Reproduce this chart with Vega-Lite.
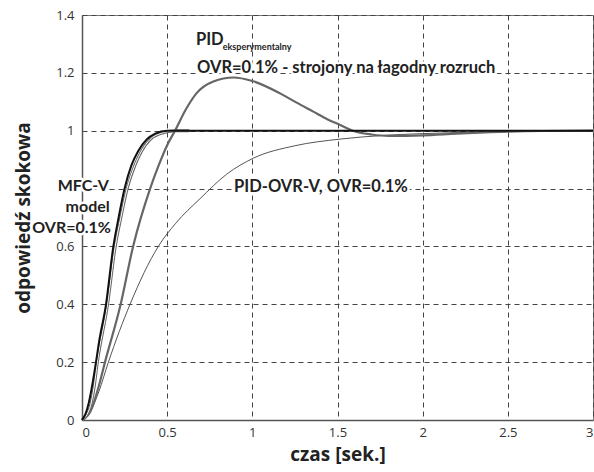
{
  "$schema": "https://vega.github.io/schema/vega-lite/v6.json",
  "width": 511,
  "height": 405,
  "autosize": {"type": "none"},
  "padding": {"left": 82, "top": 15, "right": 1, "bottom": 52},
  "background": "white",
  "config": {
    "view": {"stroke": "#777", "strokeWidth": 1},
    "font": "Lato",
    "axis": {
      "grid": true,
      "gridColor": "#444",
      "gridDash": [5, 4],
      "gridWidth": 1,
      "gridOpacity": 1,
      "ticks": false,
      "domainColor": "#555",
      "domainWidth": 1.5,
      "labelFont": "Open Sans",
      "labelFontSize": 13,
      "labelColor": "#333",
      "titleFont": "Open Sans",
      "titleFontSize": 19,
      "titleFontWeight": "bold",
      "titleColor": "#222"
    }
  },
  "datasets": {
    "curves": [
      {"s": "mfc", "t": 0, "v": 0},
      {"s": "mfc", "t": 0.02, "v": 0.02},
      {"s": "mfc", "t": 0.04, "v": 0.06},
      {"s": "mfc", "t": 0.06, "v": 0.12},
      {"s": "mfc", "t": 0.082, "v": 0.2},
      {"s": "mfc", "t": 0.1, "v": 0.27},
      {"s": "mfc", "t": 0.141, "v": 0.4},
      {"s": "mfc", "t": 0.184, "v": 0.6},
      {"s": "mfc", "t": 0.215, "v": 0.7},
      {"s": "mfc", "t": 0.25, "v": 0.8},
      {"s": "mfc", "t": 0.29, "v": 0.88},
      {"s": "mfc", "t": 0.33, "v": 0.93},
      {"s": "mfc", "t": 0.38, "v": 0.97},
      {"s": "mfc", "t": 0.43, "v": 0.99},
      {"s": "mfc", "t": 0.5, "v": 1.0},
      {"s": "mfc", "t": 1.0, "v": 1.0},
      {"s": "mfc", "t": 2.0, "v": 1.0},
      {"s": "mfc", "t": 3.0, "v": 1.0},
      {"s": "model", "t": 0, "v": 0},
      {"s": "model", "t": 0.03, "v": 0.02},
      {"s": "model", "t": 0.05, "v": 0.05},
      {"s": "model", "t": 0.07, "v": 0.11},
      {"s": "model", "t": 0.09, "v": 0.2},
      {"s": "model", "t": 0.15, "v": 0.4},
      {"s": "model", "t": 0.195, "v": 0.6},
      {"s": "model", "t": 0.228, "v": 0.7},
      {"s": "model", "t": 0.265, "v": 0.8},
      {"s": "model", "t": 0.31, "v": 0.88},
      {"s": "model", "t": 0.35, "v": 0.93},
      {"s": "model", "t": 0.4, "v": 0.97},
      {"s": "model", "t": 0.46, "v": 0.99},
      {"s": "model", "t": 0.55, "v": 1.0},
      {"s": "model", "t": 0.63, "v": 1.0},
      {"s": "pid", "t": 0, "v": 0},
      {"s": "pid", "t": 0.05, "v": 0.03},
      {"s": "pid", "t": 0.1, "v": 0.12},
      {"s": "pid", "t": 0.135, "v": 0.2},
      {"s": "pid", "t": 0.227, "v": 0.4},
      {"s": "pid", "t": 0.3, "v": 0.6},
      {"s": "pid", "t": 0.4, "v": 0.8},
      {"s": "pid", "t": 0.45, "v": 0.88},
      {"s": "pid", "t": 0.5, "v": 0.95},
      {"s": "pid", "t": 0.546, "v": 1.0},
      {"s": "pid", "t": 0.611, "v": 1.075},
      {"s": "pid", "t": 0.673, "v": 1.13},
      {"s": "pid", "t": 0.771, "v": 1.17},
      {"s": "pid", "t": 0.889, "v": 1.184},
      {"s": "pid", "t": 1.0, "v": 1.172},
      {"s": "pid", "t": 1.163, "v": 1.129},
      {"s": "pid", "t": 1.26, "v": 1.097},
      {"s": "pid", "t": 1.358, "v": 1.066},
      {"s": "pid", "t": 1.44, "v": 1.04},
      {"s": "pid", "t": 1.515, "v": 1.02},
      {"s": "pid", "t": 1.59, "v": 1.0},
      {"s": "pid", "t": 1.7, "v": 0.987},
      {"s": "pid", "t": 1.8, "v": 0.982},
      {"s": "pid", "t": 2.0, "v": 0.984},
      {"s": "pid", "t": 2.2, "v": 0.99},
      {"s": "pid", "t": 2.4, "v": 0.995},
      {"s": "pid", "t": 2.7, "v": 0.999},
      {"s": "pid", "t": 3.0, "v": 1.0},
      {"s": "ovr", "t": 0, "v": 0},
      {"s": "ovr", "t": 0.05, "v": 0.03},
      {"s": "ovr", "t": 0.1, "v": 0.1},
      {"s": "ovr", "t": 0.155, "v": 0.2},
      {"s": "ovr", "t": 0.282, "v": 0.4},
      {"s": "ovr", "t": 0.448, "v": 0.6},
      {"s": "ovr", "t": 0.55, "v": 0.68},
      {"s": "ovr", "t": 0.693, "v": 0.765},
      {"s": "ovr", "t": 0.85, "v": 0.85},
      {"s": "ovr", "t": 1.006, "v": 0.905},
      {"s": "ovr", "t": 1.25, "v": 0.948},
      {"s": "ovr", "t": 1.515, "v": 0.971},
      {"s": "ovr", "t": 1.75, "v": 0.983},
      {"s": "ovr", "t": 2.0, "v": 0.99},
      {"s": "ovr", "t": 2.5, "v": 0.997},
      {"s": "ovr", "t": 3.0, "v": 1.0}
    ],
    "labels": [
      {"t": 0.669, "v": 1.313, "txt": "PID", "a": "left", "big": true},
      {"t": 0.675, "v": 1.217, "txt": "OVR=0.1% - strojony na łagodny rozruch", "a": "left", "big": true},
      {"t": 0.158, "v": 0.81, "txt": "MFC-V", "a": "right", "big": true},
      {"t": 0.163, "v": 0.737, "txt": "model", "a": "right", "big": true},
      {"t": 0.17, "v": 0.664, "txt": "OVR=0.1%", "a": "right", "big": true},
      {"t": 0.893, "v": 0.805, "txt": "PID-OVR-V, OVR=0.1%", "a": "left", "big": true},
      {"t": 0.826, "v": 1.29, "txt": "eksperymentalny", "a": "left", "big": false}
    ]
  },
  "layer": [
    {
      "data": {"name": "labels"},
      "transform": [{"filter": "datum.a === 'left' && datum.big"}],
      "mark": {"type": "text", "font": "Lato", "fontWeight": "bold", "fontSize": 16.5, "align": "left", "baseline": "middle", "stroke": "white", "strokeWidth": 5, "strokeJoin": "round", "color": "white"},
      "encoding": {
        "x": {"field": "t", "type": "quantitative", "scale": {"domain": [0, 3]},
          "axis": {"values": [0, 0.5, 1, 1.5, 2, 2.5, 3], "format": "~g", "title": "czas [sek.]", "labelPadding": 6, "titlePadding": 6}},
        "y": {"field": "v", "type": "quantitative", "scale": {"domain": [0, 1.4]},
          "axis": {"values": [0, 0.2, 0.4, 0.6, 0.8, 1, 1.2, 1.4], "format": "~g", "labelExpr": "datum.value == 0.8 ? '' : datum.label", "title": "odpowiedź skokowa", "labelPadding": 8, "titlePadding": 22}},
        "text": {"field": "txt"}
      }
    },
    {
      "data": {"name": "labels"},
      "transform": [{"filter": "datum.a === 'right'"}],
      "mark": {"type": "text", "font": "Lato", "fontWeight": "bold", "fontSize": 16, "align": "right", "baseline": "middle", "stroke": "white", "strokeWidth": 5, "strokeJoin": "round", "color": "white"},
      "encoding": {"x": {"field": "t", "type": "quantitative"}, "y": {"field": "v", "type": "quantitative"}, "text": {"field": "txt"}}
    },
    {
      "data": {"name": "curves"},
      "transform": [{"filter": "datum.s === 'ovr'"}],
      "mark": {"type": "line", "color": "#555", "strokeWidth": 1, "interpolate": "monotone"},
      "encoding": {"x": {"field": "t", "type": "quantitative"}, "y": {"field": "v", "type": "quantitative"}}
    },
    {
      "data": {"name": "curves"},
      "transform": [{"filter": "datum.s === 'pid'"}],
      "mark": {"type": "line", "color": "#666", "strokeWidth": 2.2, "interpolate": "monotone"},
      "encoding": {"x": {"field": "t", "type": "quantitative"}, "y": {"field": "v", "type": "quantitative"}}
    },
    {
      "data": {"name": "curves"},
      "transform": [{"filter": "datum.s === 'model'"}],
      "mark": {"type": "line", "color": "#666", "strokeWidth": 3, "interpolate": "monotone"},
      "encoding": {"x": {"field": "t", "type": "quantitative"}, "y": {"field": "v", "type": "quantitative"}}
    },
    {
      "data": {"name": "curves"},
      "transform": [{"filter": "datum.s === 'model'"}],
      "mark": {"type": "line", "color": "#fff", "strokeWidth": 1, "interpolate": "monotone"},
      "encoding": {"x": {"field": "t", "type": "quantitative"}, "y": {"field": "v", "type": "quantitative"}}
    },
    {
      "data": {"name": "curves"},
      "transform": [{"filter": "datum.s === 'mfc'"}],
      "mark": {"type": "line", "color": "#111", "strokeWidth": 2, "interpolate": "monotone"},
      "encoding": {"x": {"field": "t", "type": "quantitative"}, "y": {"field": "v", "type": "quantitative"}}
    },
    {
      "data": {"name": "labels"},
      "transform": [{"filter": "datum.a === 'left' && datum.big"}],
      "mark": {"type": "text", "font": "Lato", "fontWeight": "bold", "fontSize": 16.5, "align": "left", "baseline": "middle", "color": "#222"},
      "encoding": {"x": {"field": "t", "type": "quantitative"}, "y": {"field": "v", "type": "quantitative"}, "text": {"field": "txt"}}
    },
    {
      "data": {"name": "labels"},
      "transform": [{"filter": "datum.a === 'right'"}],
      "mark": {"type": "text", "font": "Lato", "fontWeight": "bold", "fontSize": 16, "align": "right", "baseline": "middle", "color": "#222"},
      "encoding": {"x": {"field": "t", "type": "quantitative"}, "y": {"field": "v", "type": "quantitative"}, "text": {"field": "txt"}}
    },
    {
      "data": {"name": "labels"},
      "transform": [{"filter": "!datum.big"}],
      "mark": {"type": "text", "font": "Lato", "fontWeight": "bold", "fontSize": 9, "align": "left", "baseline": "middle", "color": "#222"},
      "encoding": {"x": {"field": "t", "type": "quantitative"}, "y": {"field": "v", "type": "quantitative"}, "text": {"field": "txt"}}
    }
  ]
}
